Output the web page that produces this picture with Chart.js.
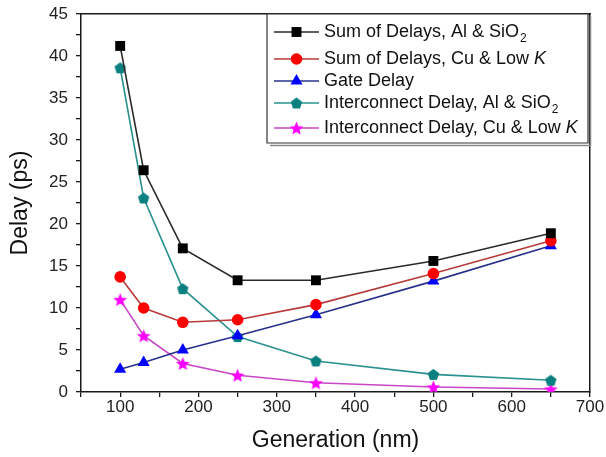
<!DOCTYPE html>
<html><head><meta charset="utf-8">
<script src="https://cdn.jsdelivr.net/npm/chart.js@4"></script>
<style>html,body{margin:0;padding:0;background:#fff}</style>
</head><body>
<canvas id="c" width="606" height="457"></canvas>
<script>
// ---- data ----
const generations = [100, 130, 180, 250, 350, 500, 650];
const sumAlSiO2   = [41.2, 26.4, 17.1, 13.3, 13.3, 15.6, 18.9];
const sumCuLowK   = [13.7, 10.0, 8.3, 8.6, 10.4, 14.1, 18.0];
const gateDelay   = [2.7, 3.5, 5.0, 6.7, 9.2, 13.2, 17.4];
const interAlSiO2 = [38.6, 23.1, 12.3, 6.6, 3.7, 2.1, 1.4];
const interCuLowK = [11.0, 6.7, 3.4, 2.0, 1.1, 0.6, 0.35];
const xTicks = [100, 200, 300, 400, 500, 600, 700];
const xMinorTicks = [50, 150, 250, 350, 450, 550, 650];
const yTicks = [0, 5, 10, 15, 20, 25, 30, 35, 40, 45];
const yMinorTicks = [2.5, 7.5, 12.5, 17.5, 22.5, 27.5, 32.5, 37.5, 42.5];
const seriesLabels = [
  [{t: 'Sum of Delays, Al & SiO'}, {t: '2', sub: true}],
  [{t: 'Sum of Delays, Cu & Low '}, {t: 'K', it: true}],
  [{t: 'Gate Delay'}],
  [{t: 'Interconnect Delay, Al & SiO'}, {t: '2', sub: true}],
  [{t: 'Interconnect Delay, Cu & Low '}, {t: 'K', it: true}]
];
const labelText = seriesLabels.map(s => s.map(p => p.t).join(''));
const allXTicks = xMinorTicks.concat(xTicks).sort((p, q) => p - q);
const allYTicks = yMinorTicks.concat(yTicks).sort((p, q) => p - q);

// ---- custom marker images ----
function makeMarker(kind, color, size) {
  const cv = document.createElement('canvas');
  cv.width = size; cv.height = size;
  const g = cv.getContext('2d');
  const cx = size / 2, cy = size / 2;
  g.fillStyle = color;
  g.beginPath();
  if (kind === 'pentagon') {
    const r = size / 2 - 0.5;
    for (let i = 0; i < 5; i++) {
      const ang = -Math.PI / 2 + i * 2 * Math.PI / 5;
      const px = cx + r * Math.cos(ang), py = cy + 0.6 + r * Math.sin(ang);
      if (i === 0) g.moveTo(px, py); else g.lineTo(px, py);
    }
  } else {
    const R = size / 2 - 0.3, r = R * 0.45;
    for (let i = 0; i < 10; i++) {
      const ang = -Math.PI / 2 + i * Math.PI / 5;
      const rr = i % 2 === 0 ? R : r;
      const px = cx + rr * Math.cos(ang), py = cy + 0.8 + rr * Math.sin(ang);
      if (i === 0) g.moveTo(px, py); else g.lineTo(px, py);
    }
  }
  g.closePath();
  g.fill();
  return cv;
}
const pentagonImg = makeMarker('pentagon', '#0a7f7f', 13);
const starImg = makeMarker('star', '#ff00ff', 15);

const lineColors = ['#2a2a2a', '#b83a3a', '#27308a', '#2a9090', '#c846c8'];
const markColors = ['#000000', '#ff0000', '#0000ff', '#0a7f7f', '#ff00ff'];
const pStyles = ['rect', 'circle', 'triangle', pentagonImg, starImg];
const pRadius = [7, 5.8, 7, 6, 7];
const valuesList = [sumAlSiO2, sumCuLowK, gateDelay, interAlSiO2, interCuLowK];

const datasets = valuesList.map((vals, i) => ({
  label: labelText[i],
  data: generations.map((g, j) => ({x: g, y: vals[j]})),
  xAxisID: 'x',
  yAxisID: 'y',
  borderColor: lineColors[i],
  backgroundColor: markColors[i],
  borderWidth: 1.6,
  pointStyle: pStyles[i],
  pointRadius: pRadius[i],
  pointHoverRadius: pRadius[i],
  pointBackgroundColor: markColors[i],
  pointBorderColor: markColors[i],
  pointBorderWidth: 0,
  tension: 0
}));

// ---- legend ----
const legendPlugin = {
  id: 'boxLegend',
  afterDraw(chart) {
    const ctx = chart.ctx;
    const area = chart.chartArea;
    ctx.save();
    const bx = 267, by = area.top, bw = area.right - 2 - bx, bh = 129;
    ctx.fillStyle = '#fff';
    ctx.fillRect(bx, by, bw, bh);
    ctx.strokeStyle = '#8a8a8a';
    ctx.lineWidth = 1.5;
    ctx.beginPath();
    ctx.moveTo(bx + bw + 2.5, by + 2); ctx.lineTo(bx + bw + 2.5, by + bh + 2.5); ctx.lineTo(bx + 3, by + bh + 2.5);
    ctx.stroke();
    ctx.strokeStyle = '#333';
    ctx.lineWidth = 1.2;
    ctx.beginPath();
    ctx.rect(bx, by, bw, bh);
    ctx.stroke();
    const rowY = [32, 59, 81, 103, 128];
    chart.data.datasets.forEach((ds, i) => {
      const y = rowY[i];
      ctx.strokeStyle = ds.borderColor;
      ctx.lineWidth = 1.6;
      ctx.beginPath(); ctx.moveTo(274, y); ctx.lineTo(319, y); ctx.stroke();
      ctx.fillStyle = ds.pointBackgroundColor;
      ctx.strokeStyle = ds.pointBackgroundColor;
      Chart.helpers.drawPoint(ctx, {pointStyle: ds.pointStyle, radius: ds.pointRadius, rotation: 0, borderWidth: 0}, 296.5, y);
      let tx = 324;
      ctx.fillStyle = '#111';
      ctx.textBaseline = 'middle';
      ctx.textAlign = 'left';
      seriesLabels[i].forEach(p => {
        if (p.sub) {
          ctx.font = '12px "Liberation Sans", Arial, sans-serif';
          ctx.fillText(p.t, tx + 1, y + 7);
          tx += ctx.measureText(p.t).width + 1;
        } else {
          ctx.font = (p.it ? 'italic ' : '') + '18px "Liberation Sans", Arial, sans-serif';
          ctx.fillText(p.t, tx, y);
          tx += ctx.measureText(p.t).width;
        }
      });
    });
    ctx.restore();
  }
};

const fontFam = '"Liberation Sans", Arial, sans-serif';
const axisColor = '#1a1a1a';
new Chart(document.getElementById('c'), {
  type: 'line',
  data: {datasets},
  plugins: [legendPlugin],
  options: {
    responsive: false,
    devicePixelRatio: 1,
    animation: false,
    layout: {padding: {top: 14, right: 16, left: 0, bottom: 0}},
    plugins: {legend: {display: false}, tooltip: {enabled: false}},
    scales: {
      x: {
        type: 'linear', position: 'bottom', min: 50, max: 700,
        afterBuildTicks: s => { s.ticks = allXTicks.map(v => ({value: v})); },
        afterFit: s => { s.height = 65; s.paddingLeft = 0; s.paddingRight = 0; },
        grid: {display: true, drawOnChartArea: false, drawTicks: true, tickLength: 5, color: axisColor, lineWidth: 1.3},
        border: {display: true, color: axisColor, width: 1.5},
        ticks: {color: '#222', font: {family: fontFam, size: 17}, padding: 0, maxRotation: 0, autoSkip: false,
                callback: v => (v % 100 === 0 ? String(v) : '')},
        title: {display: true, text: 'Generation (nm)', color: '#111', font: {family: fontFam, size: 23}, padding: {top: 0, bottom: 3}}
      },
      y: {
        type: 'linear', position: 'left', min: 0, max: 45,
        afterBuildTicks: s => { s.ticks = allYTicks.map(v => ({value: v})); },
        afterFit: s => { s.width = 81; s.paddingTop = 0; s.paddingBottom = 0; },
        grid: {display: true, drawOnChartArea: false, drawTicks: true, tickLength: 5, color: axisColor, lineWidth: 1.3},
        border: {display: true, color: axisColor, width: 1.5},
        ticks: {color: '#222', font: {family: fontFam, size: 17}, padding: 8, autoSkip: false,
                callback: v => (v % 5 === 0 ? String(v) : '')},
        title: {display: true, text: 'Delay (ps)', color: '#111', font: {family: fontFam, size: 23}, padding: {top: 7, bottom: 0}}
      },
      xTop: {
        type: 'linear', position: 'top', min: 50, max: 700,
        afterFit: s => { s.height = 0; s.paddingLeft = 0; s.paddingRight = 0; },
        grid: {display: false},
        border: {display: true, color: axisColor, width: 1.5},
        ticks: {display: false}
      },
      yRight: {
        type: 'linear', position: 'right', min: 0, max: 45,
        afterFit: s => { s.width = 0; s.paddingTop = 0; s.paddingBottom = 0; },
        grid: {display: false},
        border: {display: true, color: axisColor, width: 1.5},
        ticks: {display: false}
      }
    }
  }
});
</script>
</body></html>
